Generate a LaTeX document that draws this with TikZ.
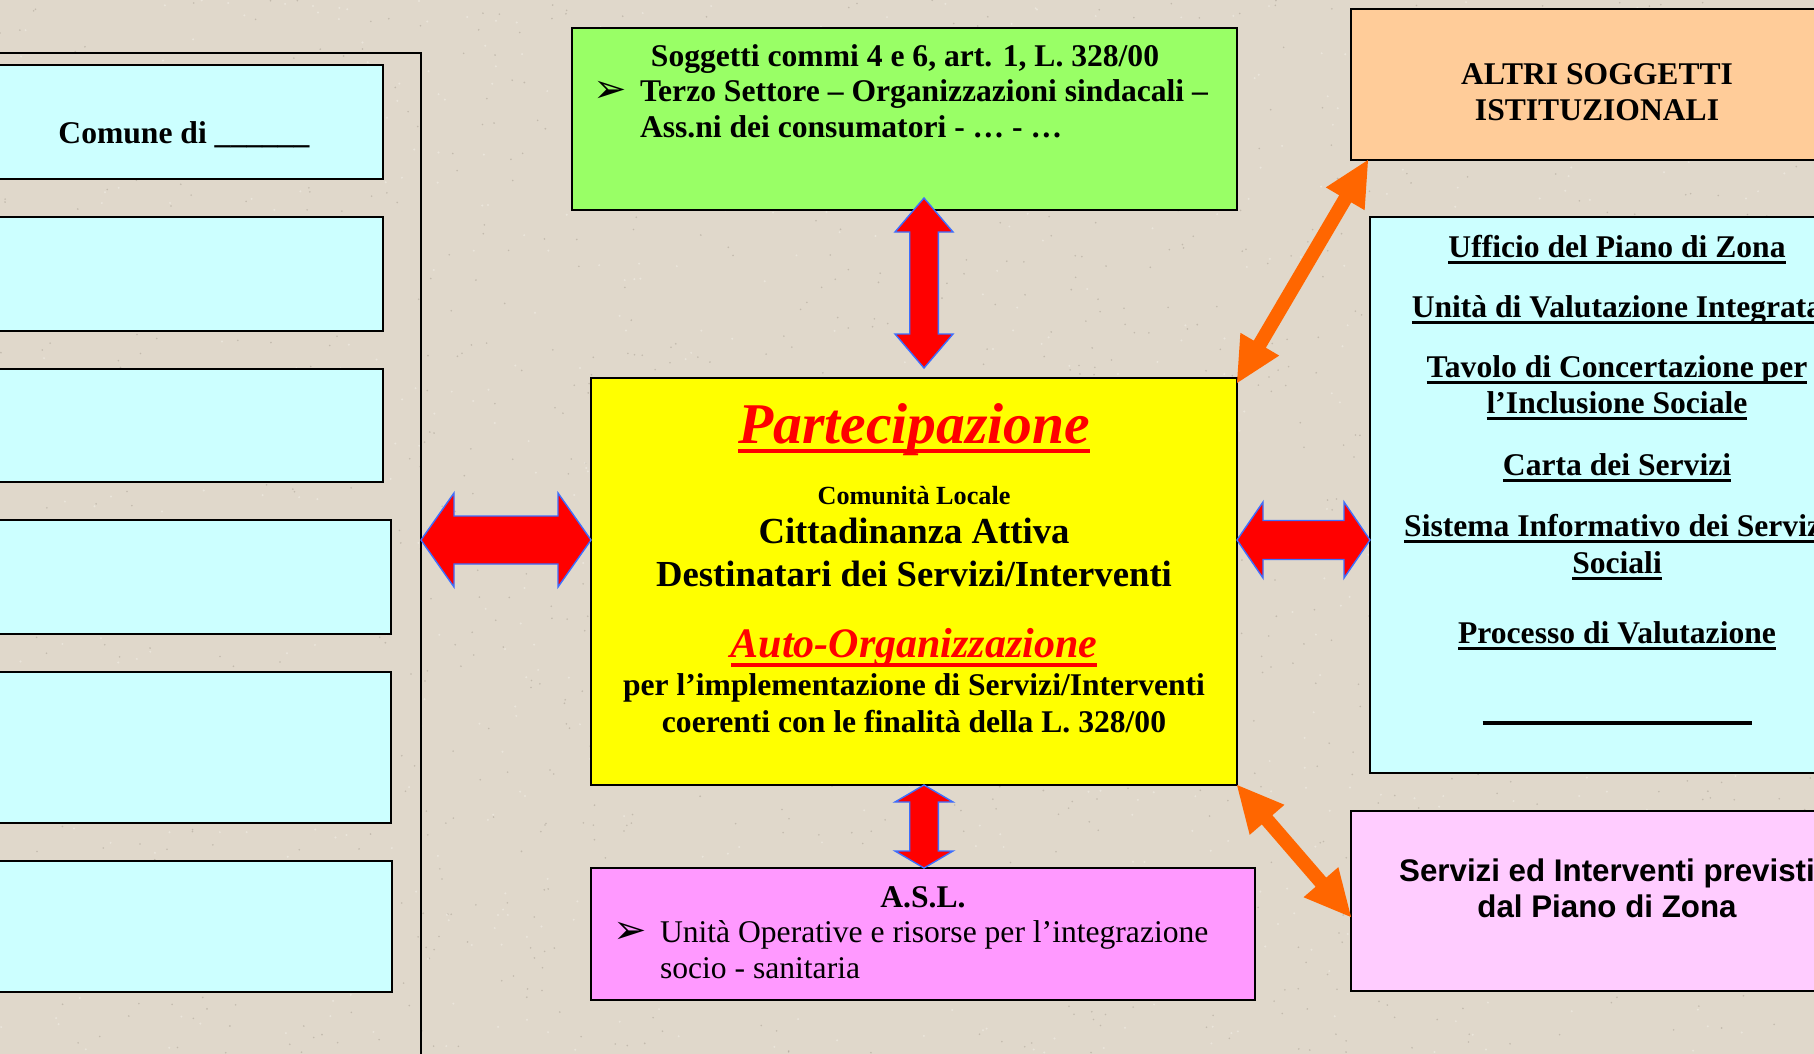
\documentclass[tikz,border=0pt]{standalone}
\usepackage{fontspec}
\setmainfont{Liberation Serif}
\newfontfamily\arialf{Liberation Sans}
\newfontfamily\dingf{DejaVu Sans}
\usetikzlibrary{calc,fit}

\definecolor{paper}{RGB}{224,216,203}
\definecolor{speckdark}{RGB}{160,150,138}
\definecolor{specklight}{RGB}{242,238,230}
\definecolor{cyanbox}{RGB}{204,255,255}
\definecolor{greenbox}{RGB}{153,255,102}
\definecolor{yellowbox}{RGB}{255,255,0}
\definecolor{orangebox}{RGB}{255,204,153}
\definecolor{aslpink}{RGB}{255,153,255}
\definecolor{lightpink}{RGB}{255,204,255}
\definecolor{arrowred}{RGB}{255,0,0}
\definecolor{arrowblue}{RGB}{60,110,255}
\definecolor{arroworange}{RGB}{255,102,0}

% text with a heavy underline: #1 depth below baseline, #2 thickness
\newcommand\barunder[3]{\setbox0\hbox{#3}\rlap{\raisebox{-#1}{\rule{\wd0}{#2}}}\box0}
\newcommand\listul[1]{\barunder{7.3pt}{3.3pt}{#1}}

% broad double-headed arrow between two named points
% #1 style, #2 start, #3 end, #4 head length, #5 head half width, #6 shaft half width
\newcommand\fatarrow[6]{%
  \coordinate (fa-h1) at ($#2!#4!#3$);
  \coordinate (fa-h2) at ($#3!#4!#2$);
  \path[#1] #2 -- ($(fa-h1)!#5!90:#3$) -- ($(fa-h1)!#6!90:#3$)
    -- ($(fa-h2)!#6!-90:#2$) -- ($(fa-h2)!#5!-90:#2$) -- #3
    -- ($(fa-h2)!#5!90:#2$) -- ($(fa-h2)!#6!90:#2$)
    -- ($(fa-h1)!#6!-90:#3$) -- ($(fa-h1)!#5!-90:#3$) -- cycle;
}

\tikzset{
  box/.style={draw=black, line width=1.8pt, inner sep=0pt, outer sep=0pt},
  txt/.style={anchor=base, inner sep=0pt, outer sep=0pt,
    font=\bfseries\fontsize{31.6}{36}\selectfont},
  bigtxt/.style={txt, font=\bfseries\fontsize{36.7}{40}\selectfont},
  redtitle/.style={txt, text=arrowred},
  plaintxt/.style={txt, anchor=base west, font=\fontsize{31.6}{36}\selectfont},
  sanstxt/.style={txt, font=\arialf\bfseries\fontsize{31.3}{36}\selectfont},
  bulletglyph/.style={anchor=base west, inner sep=0pt, outer sep=0pt,
    font=\dingf\fontsize{40}{40}\selectfont},
  redarrow/.style={fill=arrowred, draw=arrowblue, line width=1.4pt, line join=miter},
  orangearrow/.style={fill=arroworange},
}

\begin{document}
\begin{tikzpicture}[x=1pt, y=-1pt]
\useasboundingbox (0,0) rectangle (1814,1054);
\clip (0,0) rectangle (1814,1054);

% paper background with speckles
\fill[paper] (0,0) rectangle (1814,1054);
\pgfmathsetseed{4242}
\foreach \k in {1,...,1400}{
  \fill[speckdark, opacity=0.45] ({rnd*1814},{rnd*1054}) circle (0.9);
}
\foreach \k in {1,...,900}{
  \fill[specklight, opacity=0.6] ({rnd*1814},{rnd*1054}) circle (1.1);
}

% left column: frame with the municipalities
\node[box, fit={(-20,53) (421,1080)}] (frame) {};
\node[box, fill=cyanbox, fit={(-15,65) (383,179)}] (c1) {};
\node[box, fill=cyanbox, fit={(-15,217) (383,331)}] (c2) {};
\node[box, fill=cyanbox, fit={(-15,369) (383,482)}] (c3) {};
\node[box, fill=cyanbox, fit={(-15,520) (391,634)}] (c4) {};
\node[box, fill=cyanbox, fit={(-15,672) (391,823)}] (c5) {};
\node[box, fill=cyanbox, fit={(-15,861) (392,992)}] (c6) {};
\node[txt] (comune) at (184,143) {Comune di \_\_\_\_\_\_};

% central column
\node[box, fill=greenbox, fit={(572,28) (1237,210)}] (green) {};
\node[txt] (sogg) at (905,67) {Soggetti commi 4 e 6, art. 1, L. 328/00};
\node[bulletglyph] (gbul) at (593,103) {➢};
\node[txt, anchor=base west] (terzo) at (640,102) {Terzo Settore – Organizzazioni sindacali –};
\node[txt, anchor=base west] (assni) at (640,138) {Ass.ni dei consumatori - … - …};

\node[box, fill=yellowbox, fit={(591,378) (1237,785)}] (yellow) {};
\node[redtitle, font=\bfseries\itshape\fontsize{57.6}{60}\selectfont] (part) at (914,443)
  {\barunder{10.3pt}{4.3pt}{Partecipazione}};
\node[txt, font=\bfseries\fontsize{26.2}{30}\selectfont] (comloc) at (914,504) {Comunità Locale};
\node[bigtxt] (citt) at (914,543) {Cittadinanza Attiva};
\node[bigtxt] (dest) at (914,586) {Destinatari dei Servizi/Interventi};
\node[redtitle, font=\bfseries\itshape\fontsize{42}{46}\selectfont] (autoorg) at (914,657)
  {\barunder{9.7pt}{4pt}{Auto-Organizzazione}};
\node[txt] (impl) at (914,695) {per l’implementazione di Servizi/Interventi};
\node[txt] (coer) at (914,732) {coerenti con le finalità della L. 328/00};

\node[box, fill=aslpink, fit={(591,868) (1255,1000)}] (asl) {};
\node[txt] (asltitle) at (923,907) {A.S.L.};
\node[bulletglyph] (abul) at (613,943) {➢};
\node[plaintxt] (uo) at (660,942) {Unità Operative e risorse per l’integrazione};
\node[plaintxt] (socio) at (660,978) {socio - sanitaria};

% right column
\node[box, fill=orangebox, fit={(1351,9) (1880,160)}] (orange) {};
\node[txt] (altri1) at (1597,85) {ALTRI SOGGETTI};
\node[txt] (altri2) at (1597,121) {ISTITUZIONALI};

\node[box, fill=cyanbox, fit={(1370,217) (1880,773)}] (servlist) {};
\node[txt] (l1) at (1617,257) {\listul{Ufficio del Piano di Zona}};
\node[txt] (l2) at (1617,317) {\listul{Unità di Valutazione Integrata}};
\node[txt] (l3) at (1617,377) {\listul{Tavolo di Concertazione per}};
\node[txt] (l4) at (1617,413) {\listul{l’Inclusione Sociale}};
\node[txt] (l5) at (1617,475) {\listul{Carta dei Servizi}};
\node[txt] (l6) at (1617,536) {\listul{Sistema Informativo dei Servizi}};
\node[txt] (l7) at (1617,573) {\listul{Sociali}};
\node[txt] (l8) at (1617,643) {\listul{Processo di Valutazione}};
\node[txt] (l9) at (1617,723) {\rule[-2pt]{269pt}{4pt}};

\node[box, fill=lightpink, fit={(1351,811) (1880,991)}] (lowpink) {};
\node[sanstxt] (serv1) at (1607,881) {Servizi ed Interventi previsti};
\node[sanstxt] (serv2) at (1607,917) {dal Piano di Zona};

% connectors
\coordinate (row) at (0,540);
\coordinate (col) at (924,0);

\coordinate (lA) at (frame.east |- row);
\coordinate (lB) at (yellow.west |- row);
\fatarrow{redarrow}{(lA)}{(lB)}{33pt}{47pt}{24pt}

\coordinate (rA) at (yellow.east |- row);
\coordinate (rB) at (servlist.west |- row);
\fatarrow{redarrow}{(rA)}{(rB)}{26pt}{38pt}{19.5pt}

\coordinate (tA) at ($(green.south -| col)+(0,-12)$);
\coordinate (tB) at ($(yellow.north -| col)+(0,-10)$);
\fatarrow{redarrow}{(tA)}{(tB)}{34pt}{29pt}{14.3pt}

\coordinate (bA) at (yellow.south -| col);
\coordinate (bB) at (asl.north -| col);
\fatarrow{redarrow}{(bA)}{(bB)}{17pt}{29pt}{14.3pt}

\coordinate (oA) at ($(yellow.north east)+(0,5)$);
\coordinate (oB) at ($(orange.south west)+(17,0)$);
\fatarrow{orangearrow}{(oA)}{(oB)}{45pt}{22.5pt}{7pt}

\coordinate (pA) at (yellow.south east);
\coordinate (pB) at ($(lowpink.west)+(0,16)$);
\fatarrow{orangearrow}{(pA)}{(pB)}{46pt}{23pt}{7pt}
\end{tikzpicture}
\end{document}
